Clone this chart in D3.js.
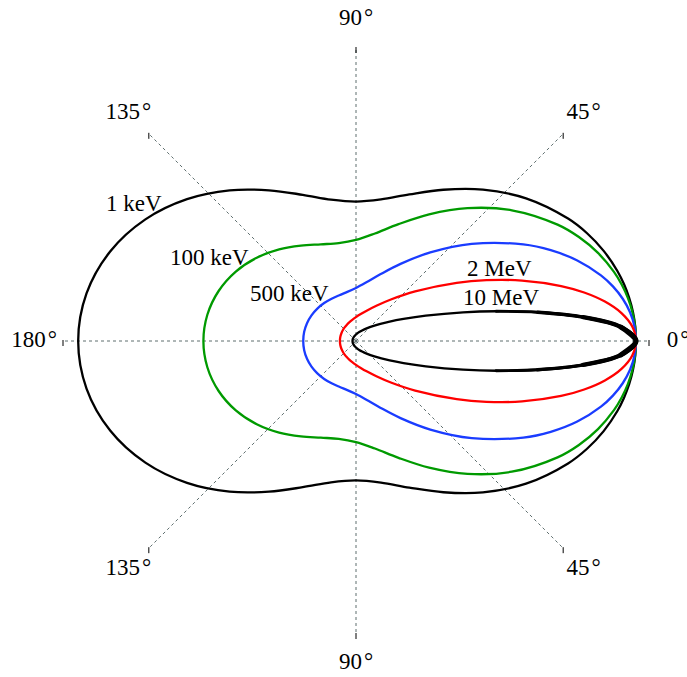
<!DOCTYPE html>
<html>
<head>
<meta charset="utf-8">
<script src="https://cdn.jsdelivr.net/npm/d3@7"></script>
<style>
  body { margin: 0; background: #fff; }
  text { font-family: "Liberation Serif", "Times New Roman", serif; }
</style>
</head>
<body>
<script>
// scattering angle (deg) and relative cross section (upper half, mirrored below)
const angles = [0, 3, 6, 9, 12, 15, 20, 25, 30, 40, 50, 60, 70, 80, 90, 100, 110, 120, 130, 140, 150, 160, 170, 180];
const kev1 = [1, 0.9986, 0.9945, 0.9877, 0.9783, 0.9664, 0.9413, 0.9105, 0.8745, 0.7927, 0.7056, 0.6238, 0.5571, 0.5134, 0.4980, 0.5127, 0.5556, 0.6213, 0.7021, 0.7879, 0.8686, 0.9344, 0.9773, 0.9922];
const kev100 = [1, 0.9981, 0.9924, 0.9830, 0.9701, 0.9538, 0.9197, 0.8784, 0.8312, 0.7264, 0.6193, 0.5222, 0.4441, 0.3900, 0.3609, 0.3548, 0.3674, 0.3934, 0.4270, 0.4627, 0.4957, 0.5221, 0.5391, 0.5450];
const kev500 = [1, 0.9960, 0.9840, 0.9645, 0.9381, 0.9057, 0.8410, 0.7674, 0.6899, 0.5396, 0.4129, 0.3181, 0.2534, 0.2128, 0.1896, 0.1781, 0.1741, 0.1744, 0.1769, 0.1802, 0.1835, 0.1862, 0.1879, 0.1885];
const mev2 = [1, 0.9880, 0.9534, 0.9000, 0.8331, 0.7585, 0.6310, 0.5139, 0.4153, 0.2758, 0.1937, 0.1455, 0.1162, 0.0976, 0.0853, 0.0767, 0.0707, 0.0664, 0.0632, 0.0609, 0.0593, 0.0582, 0.0576, 0.0574];
const mev10 = [1, 0.9475, 0.8155, 0.6566, 0.5114, 0.3959, 0.2653, 0.1873, 0.1390, 0.0859, 0.0590, 0.0435, 0.0339, 0.0276, 0.0232, 0.0201, 0.0178, 0.0161, 0.0148, 0.0139, 0.0132, 0.0128, 0.0125, 0.0125];

const seriesNames = ['1 keV', '100 keV', '500 keV', '2 MeV', '10 MeV'];
const seriesValues = [kev1, kev100, kev500, mev2, mev10];
const seriesColors = ['#000000', '#009a00', '#1a3cff', '#ff0000', '#000000'];

const axisAngles = [0, 45, 90, 135, 180, 225, 270, 315];
const axisLabels = ['0', '45', '90', '135', '180', '135', '90', '45'];

const width = 687;
const height = 677;
const cx = 356, cy = 341;

const svg = d3.select('body').append('svg')
    .attr('width', width)
    .attr('height', height);

const g = svg.append('g').attr('transform', `translate(${cx},${cy})`);

const r = d3.scaleLinear().domain([0, 1]).range([0, 280]);
const axisR = 293;
const labelR = 322;
const rad = d => d * Math.PI / 180;

// dotted spokes
g.selectAll('line.spoke')
    .data(axisAngles)
    .enter().append('line')
    .attr('class', 'spoke')
    .attr('x1', 0).attr('y1', 0)
    .attr('x2', d => axisR * Math.cos(rad(d)))
    .attr('y2', d => -axisR * Math.sin(rad(d)))
    .attr('stroke', '#5f6f6f')
    .attr('stroke-width', 1)
    .attr('stroke-dasharray', '3,3');

// small tick at the end of each spoke
g.selectAll('line.tick')
    .data(axisAngles)
    .enter().append('line')
    .attr('class', 'tick')
    .attr('x1', d => axisR * Math.cos(rad(d)))
    .attr('x2', d => axisR * Math.cos(rad(d)))
    .attr('y1', d => -axisR * Math.sin(rad(d)) - 1)
    .attr('y2', d => -axisR * Math.sin(rad(d)) + 5)
    .attr('stroke', '#000')
    .attr('stroke-width', 1);

const lab = g.selectAll('text.axislabel')
    .data(axisAngles)
    .enter().append('text')
    .attr('class', 'axislabel')
    .attr('x', d => labelR * Math.cos(rad(d)))
    .attr('y', d => -labelR * Math.sin(rad(d)) - 2)
    .attr('text-anchor', 'middle')
    .attr('dominant-baseline', 'central')
    .attr('font-size', 23)
    .attr('fill', '#000');
lab.append('tspan').text((d, i) => axisLabels[i]);
lab.append('tspan').attr('dx', 2).text('°');

// full closed outline: upper half 0..180, then lower half mirrored
function outline(vals) {
    const pts = angles.map((a, i) => [a, vals[i]]);
    for (let i = angles.length - 2; i >= 1; i--) pts.push([-angles[i], vals[i]]);
    return pts;
}

const radial = d3.lineRadial()
    .angle(d => rad(90 - d[0]))
    .radius(d => r(d[1]));

seriesValues.forEach((vals, i) => {
    g.append('path')
        .attr('d', radial.curve(d3.curveCatmullRomClosed.alpha(0.5))(outline(vals)))
        .attr('fill', 'none')
        .attr('stroke', seriesColors[i])
        .attr('stroke-width', 2.3);
});

// the 10 MeV lobe is drawn heavier near the forward tip
function tip(vals, maxA) {
    const pts = [];
    angles.forEach((a, i) => { if (a <= maxA) pts.push([a, vals[i]]); });
    const low = pts.slice(1).reverse().map(p => [-p[0], p[1]]);
    return low.concat(pts);
}
[[12, 2.8], [9, 3.5], [6, 4.3], [3, 5.2]].forEach(([maxA, w]) => {
    g.append('path')
        .attr('d', radial.curve(d3.curveCatmullRom.alpha(0.5))(tip(mev10, maxA)))
        .attr('fill', 'none')
        .attr('stroke', '#000')
        .attr('stroke-width', w)
        .attr('stroke-linecap', 'round');
});

// curve labels
const labelPos = [[106, 211], [170, 265], [250, 301], [467, 276], [463, 305]];
svg.selectAll('text.series')
    .data(seriesNames)
    .enter().append('text')
    .attr('class', 'series')
    .attr('x', (d, i) => labelPos[i][0])
    .attr('y', (d, i) => labelPos[i][1])
    .attr('font-size', 23)
    .attr('fill', '#000')
    .text(d => d);
</script>
</body>
</html>
